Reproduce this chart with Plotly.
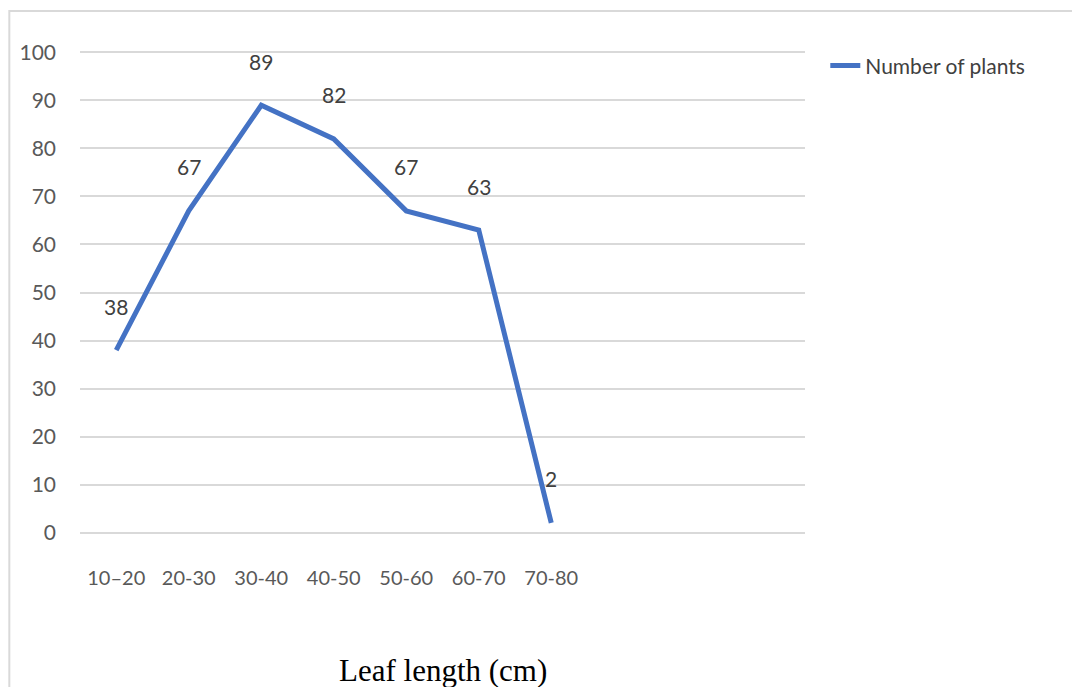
import plotly.graph_objects as go

categories = ["10–20", "20-30", "30-40", "40-50", "50-60", "60-70", "70-80"]
plants = [38, 67, 89, 82, 67, 63, 2]
y_ticks = [0, 10, 20, 30, 40, 50, 60, 70, 80, 90, 100]

narrow = "Lato, Liberation Sans Narrow, Arial Narrow, sans-serif"
blue = "#4472C4"

fig = go.Figure()
fig.add_trace(go.Scatter(
    x=categories, y=plants, mode="lines", name="Number of plants",
    line=dict(color=blue, width=5),
))

for c, v in zip(categories, plants):
    fig.add_annotation(x=c, y=v, text=str(v), showarrow=False,
                       yshift=44, font=dict(family=narrow, size=21, color="#404040"))

fig.add_annotation(x=0.5, y=0, xref="paper", yref="paper", text="Leaf length (cm)",
                   showarrow=False, yanchor="middle", yshift=-136,
                   font=dict(family="Liberation Serif, Times New Roman, serif", size=31, color="#000000"))

fig.add_shape(type="rect", xref="paper", yref="paper",
              x0=-0.0975, x1=1.38, y0=-0.335, y1=1.083,
              line=dict(color="#d9d9d9", width=2), fillcolor="rgba(0,0,0,0)", layer="below")

fig.update_layout(
    width=1064, height=679,
    margin=dict(l=72, r=267, t=43, b=153),
    paper_bgcolor="white", plot_bgcolor="white",
    showlegend=True,
    legend=dict(x=1.028, y=0.969, xanchor="left", yanchor="middle",
                font=dict(family=narrow, size=21, color="#404040"),
                bgcolor="rgba(0,0,0,0)"),
    xaxis=dict(type="category", categoryorder="array", categoryarray=categories,
               range=[-0.5, 9.5], showgrid=False, showline=False, zeroline=False,
               ticks="", ticklabelstandoff=30,
               tickfont=dict(family=narrow, size=20, color="#595959")),
    yaxis=dict(range=[-0.3, 100.3], tickvals=y_ticks, showgrid=True, gridcolor="#d9d9d9",
               gridwidth=2, zeroline=False, showline=False, ticks="",
               ticklabelstandoff=23,
               tickfont=dict(family=narrow, size=21, color="#595959")),
)

fig.write_html("out.html")
